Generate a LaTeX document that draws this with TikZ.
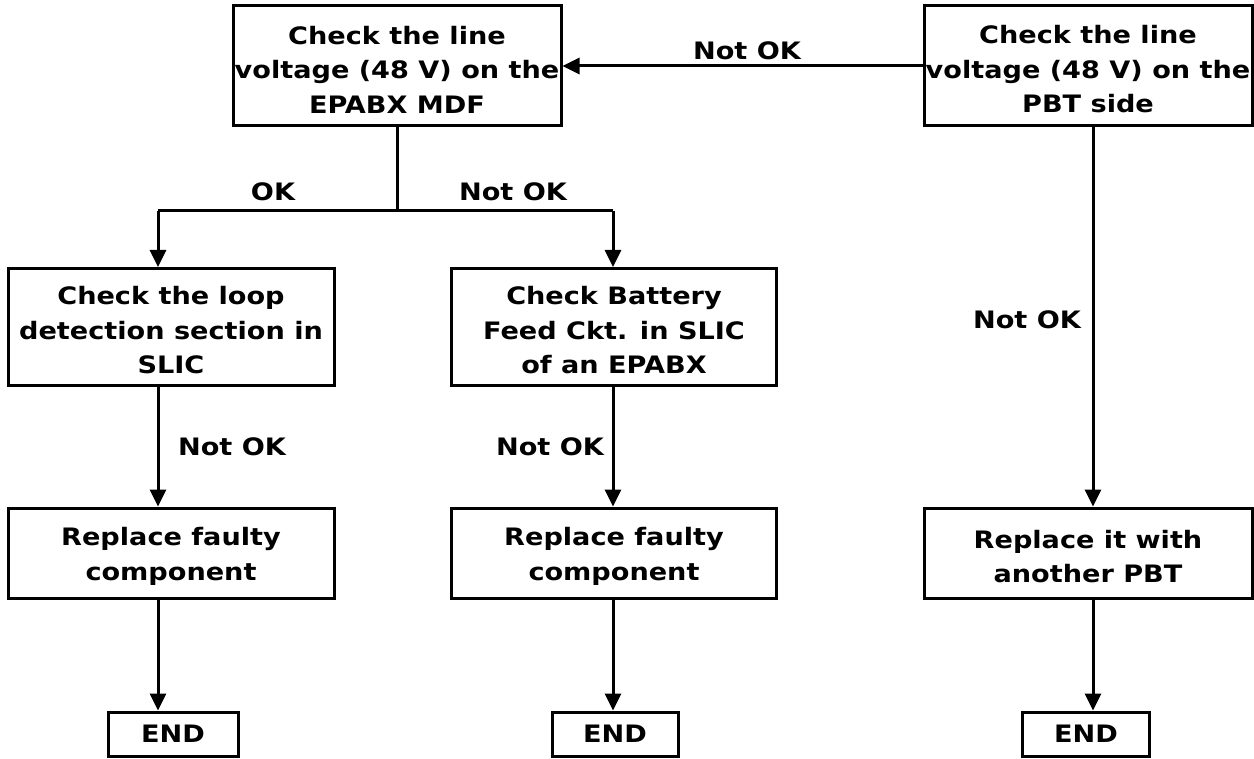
\documentclass[tikz,border=0pt]{standalone}
\usepackage{fontspec}
\setmainfont{DejaVu Sans}[FakeStretch=1.13]
\usetikzlibrary{arrows.meta}
\begin{document}
\begin{tikzpicture}[x=1pt,y=-1pt,
  box/.style={draw,line width=3pt,inner sep=0pt},
  btext/.style={align=center,inner sep=0pt,yshift=-3.5pt,font=\fontsize{24}{34.5}\selectfont\bfseries},
  endbox/.style={draw,line width=3pt,inner sep=0pt,minimum height=44pt,font=\fontsize{24}{28}\selectfont\bfseries},
  lbl/.style={font=\fontsize{24}{28}\selectfont\bfseries,inner sep=0pt},
  arr/.style={line width=3pt,-{Triangle[length=17pt,width=16pt]}},
  ln/.style={line width=3pt}]
\useasboundingbox (0,0) rectangle (1254,759);
\node[box,minimum width=328pt,minimum height=120pt,label={[btext]center:{Check the line\\voltage (48 V) on the\\EPABX MDF}}] (mdf) at (397,66) {};
\node[box,minimum width=328pt,minimum height=120pt,label={[btext]center:{Check the line\\voltage (48 V) on the\\PBT side}}] (pbt) at (1088,66) {};
\node[box,minimum width=326pt,minimum height=117pt,label={[btext]center:{Check the loop\\detection section in\\SLIC}}] (loop) at (171,327) {};
\node[box,minimum width=325pt,minimum height=117pt,label={[btext]center:{Check Battery\\Feed Ckt. in SLIC\\of an EPABX}}] (feed) at (614,327) {};
\node[box,minimum width=326pt,minimum height=90pt,label={[btext]center:{Replace faulty\\component}}] (rep1) at (171,553) {};
\node[box,minimum width=325pt,minimum height=90pt,label={[btext]center:{Replace faulty\\component}}] (rep2) at (614,553) {};
\node[box,minimum width=328pt,minimum height=90pt,label={[btext]center:{Replace it with\\another PBT}}] (rep3) at (1088,553) {};
\node[endbox,minimum width=130pt] (end1) at (173,734) {END};
\node[endbox,minimum width=126pt] (end2) at (615,734) {END};
\node[endbox,minimum width=127pt] (end3) at (1086,734) {END};
\coordinate (j) at (397,211);
\coordinate (jl) at (158,211);
\coordinate (jr) at (613,211);
\draw[arr] (pbt.west) -- (mdf.east);
\node[lbl] (l1) at (747,51) {Not OK};
\draw[ln] (mdf.south -| j) -- (j);
\draw[ln] (jl) -- (jr);
\draw[arr] (jl) -- (jl |- loop.north);
\draw[arr] (jr) -- (jr |- feed.north);
\node[lbl] (l2) at (273,192) {OK};
\node[lbl] (l3) at (513,192) {Not OK};
\draw[arr] (loop.south -| jl) -- (rep1.north -| jl);
\draw[arr] (feed.south -| jr) -- (rep2.north -| jr);
\node[lbl] (l4) at (232,447) {Not OK};
\node[lbl] (l5) at (550,447) {Not OK};
\coordinate (rx) at (1093,0);
\draw[arr] (pbt.south -| rx) -- (rep3.north -| rx);
\node[lbl] (l6) at (1027,320) {Not OK};
\draw[arr] (rep1.south -| jl) -- (end1.north -| jl);
\draw[arr] (rep2.south -| jr) -- (end2.north -| jr);
\draw[arr] (rep3.south -| rx) -- (end3.north -| rx);
\end{tikzpicture}
\end{document}
